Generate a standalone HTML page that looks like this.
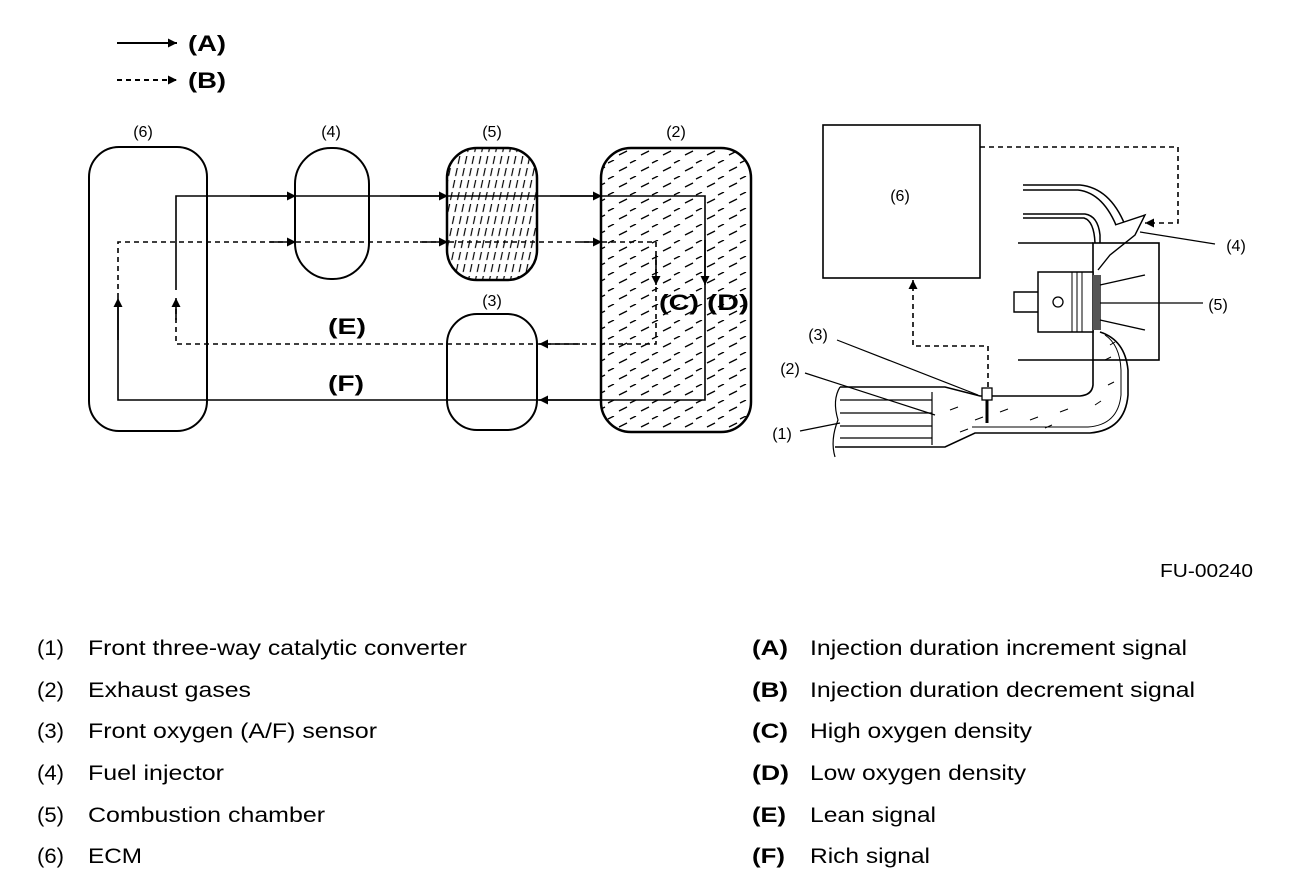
<!DOCTYPE html>
<html><head><meta charset="utf-8"><style>
html,body{margin:0;padding:0;background:#fff;}
svg{display:block;font-family:"Liberation Sans",Arial,sans-serif;}
</style></head><body>
<svg width="1312" height="894" viewBox="0 0 1312 894" xmlns="http://www.w3.org/2000/svg">
<defs>
<marker id="ar" viewBox="0 0 10 10" refX="10" refY="5" markerWidth="16" markerHeight="9" markerUnits="userSpaceOnUse" orient="auto"><path d="M0,0 L10,5 L0,10 z" fill="#000"/></marker>
<pattern id="dash2" width="22" height="16" patternUnits="userSpaceOnUse"><path d="M3,11 L11,7 M14,3 L20,0" stroke="#000" stroke-width="1.3"/></pattern>
<pattern id="hatch5" width="7" height="12" patternUnits="userSpaceOnUse" patternTransform="skewX(-12)"><path d="M3,0 L3,8" stroke="#000" stroke-width="1.2"/></pattern>
</defs>
<g fill="none" stroke="#000" stroke-width="2">
<line x1="117" y1="43" x2="177" y2="43" marker-end="url(#ar)"/>
<line x1="117" y1="80" x2="177" y2="80" stroke-dasharray="5,4" marker-end="url(#ar)"/>
<rect x="89" y="147" width="118" height="284" rx="30"/>
<rect x="295" y="148" width="74" height="131" rx="36"/>
<rect x="447" y="148" width="90" height="132" rx="30" fill="url(#hatch5)" stroke-width="2.5"/>
<rect x="601" y="148" width="150" height="284" rx="30" fill="url(#dash2)" stroke-width="2.5"/>
<rect x="447" y="314" width="90" height="116" rx="30"/>
<polyline points="176,290 176,196 705,196 705,400 118,400 118,300" stroke-width="1.6"/>
<line x1="250" y1="196" x2="296" y2="196" stroke-width="1.6" marker-end="url(#ar)"/>
<line x1="400" y1="196" x2="448" y2="196" stroke-width="1.6" marker-end="url(#ar)"/>
<line x1="560" y1="196" x2="602" y2="196" stroke-width="1.6" marker-end="url(#ar)"/>
<line x1="705" y1="240" x2="705" y2="285" stroke-width="1.6" marker-end="url(#ar)"/>
<line x1="600" y1="400" x2="539" y2="400" stroke-width="1.6" marker-end="url(#ar)"/>
<line x1="118" y1="340" x2="118" y2="298" stroke-width="1.6" marker-end="url(#ar)"/>
<polyline points="118,298 118,242 656,242 656,344 176,344 176,300" stroke-width="1.6" stroke-dasharray="5,4"/>
<line x1="270" y1="242" x2="296" y2="242" stroke-width="1.6" marker-end="url(#ar)"/>
<line x1="420" y1="242" x2="448" y2="242" stroke-width="1.6" marker-end="url(#ar)"/>
<line x1="580" y1="242" x2="602" y2="242" stroke-width="1.6" marker-end="url(#ar)"/>
<line x1="656" y1="255" x2="656" y2="285" stroke-width="1.6" marker-end="url(#ar)"/>
<line x1="580" y1="344" x2="539" y2="344" stroke-width="1.6" marker-end="url(#ar)"/>
<line x1="176" y1="320" x2="176" y2="298" stroke-width="1.6" marker-end="url(#ar)"/>

<rect x="823" y="125" width="157" height="153" stroke-width="1.6"/>
<polyline points="980,147 1178,147 1178,223 1145,223" stroke-width="1.6" stroke-dasharray="5,4" marker-end="url(#ar)"/>
<polyline points="988,387 988,346 913,346 913,280" stroke-width="1.6" stroke-dasharray="5,4" marker-end="url(#ar)"/>
<path d="M1023,185 L1080,185 Q1110,188 1125,225 L1125,240" stroke-width="1.5"/>
<path d="M1023,190 L1078,190 Q1104,193 1118,230" stroke-width="1.5"/>
<path d="M1023,214 L1085,214 Q1098,216 1100,235 L1100,243" stroke-width="1.5"/>
<path d="M1023,218 L1084,218 Q1094,221 1095,243" stroke-width="1.5"/>
<path d="M1115,225 L1145,215 L1135,235 L1110,255 L1098,270" stroke-width="1.4" fill="#fff"/>
<line x1="1018" y1="243" x2="1093" y2="243" stroke-width="1.6"/>
<line x1="1018" y1="360" x2="1093" y2="360" stroke-width="1.6"/>
<rect x="1093" y="243" width="66" height="117" stroke-width="1.6"/>
<rect x="1038" y="272" width="55" height="60" stroke-width="1.5" fill="#fff"/>
<line x1="1072" y1="272" x2="1072" y2="332" stroke-width="1"/><line x1="1077" y1="272" x2="1077" y2="332" stroke-width="1"/><line x1="1082" y1="272" x2="1082" y2="332" stroke-width="1"/>
<rect x="1093" y="275" width="8" height="55" fill="#555" stroke="none"/>
<circle cx="1058" cy="302" r="5" stroke-width="1.3"/>
<path d="M1038,292 L1014,292 L1014,312 L1038,312" stroke-width="1.4"/>
<path d="M1100,285 L1145,275 M1100,320 L1145,330" stroke-width="1.3"/>
<path d="M1100,332 Q1125,340 1128,370 L1128,395 Q1125,430 1090,433 L975,433 L945,447 L835,447" stroke-width="1.6"/>
<path d="M1093,360 L1093,385 Q1092,395 1080,396 L980,396 L945,387 L840,387" stroke-width="1.6"/>
<path d="M1105,335 Q1120,345 1121,370 L1121,395 Q1118,425 1088,427 L972,427" stroke-width="1"/>
<path d="M840,387 Q832,400 838,420 Q830,440 835,457" stroke-width="1.2"/>
<line x1="840" y1="400" x2="932" y2="400" stroke-width="1.2"/>
<line x1="840" y1="413" x2="932" y2="413" stroke-width="1.2"/>
<line x1="840" y1="426" x2="932" y2="426" stroke-width="1.2"/>
<line x1="840" y1="438" x2="932" y2="438" stroke-width="1.2"/>
<line x1="932" y1="392" x2="932" y2="445" stroke-width="1.2"/>
<path d="M950,410 l8,-3 M975,420 l8,-3 M1000,412 l8,-3 M1030,420 l8,-3 M1060,412 l8,-3 M1095,405 l6,-4 M1108,385 l6,-3 M1105,360 l6,-3 M1110,345 l5,-3 M960,432 l8,-3 M1045,428 l7,-3" stroke-width="1"/>
<rect x="982" y="388" width="10" height="12" stroke-width="1.3" fill="#fff"/>
<line x1="987" y1="400" x2="987" y2="423" stroke-width="3"/>
<line x1="1215" y1="244" x2="1140" y2="232" stroke-width="1.2"/>
<line x1="1203" y1="303" x2="1100" y2="303" stroke-width="1.2"/>
<line x1="837" y1="340" x2="978" y2="395" stroke-width="1.2"/>
<line x1="805" y1="373" x2="935" y2="415" stroke-width="1.2"/>
<line x1="800" y1="431" x2="840" y2="423" stroke-width="1.2"/>
</g>
<g font-size="22" font-weight="bold" fill="#000" lengthAdjust="spacingAndGlyphs">
<text x="188" y="51" textLength="38" lengthAdjust="spacingAndGlyphs">(A)</text>
<text x="188" y="88" textLength="38" lengthAdjust="spacingAndGlyphs">(B)</text>
<text x="659" y="310" textLength="40" lengthAdjust="spacingAndGlyphs">(C)</text>
<text x="707" y="310" textLength="42" lengthAdjust="spacingAndGlyphs">(D)</text>
<text x="328" y="334" textLength="38" lengthAdjust="spacingAndGlyphs">(E)</text>
<text x="328" y="391" textLength="36" lengthAdjust="spacingAndGlyphs">(F)</text>
</g>
<g font-size="16" fill="#000" text-anchor="middle">
<text x="143" y="137">(6)</text>
<text x="331" y="137">(4)</text>
<text x="492" y="137">(5)</text>
<text x="676" y="137">(2)</text>
<text x="492" y="306">(3)</text>
<text x="900" y="201">(6)</text>
<text x="1236" y="251">(4)</text>
<text x="1218" y="310">(5)</text>
<text x="818" y="340">(3)</text>
<text x="790" y="374">(2)</text>
<text x="782" y="439">(1)</text>
</g>
<text x="1160" y="577" font-size="18" fill="#000" textLength="93" lengthAdjust="spacingAndGlyphs">FU-00240</text>
<g font-size="21" fill="#000">
<text x="37" y="655" textLength="27" lengthAdjust="spacingAndGlyphs">(1)</text><text x="88" y="655" textLength="379" lengthAdjust="spacingAndGlyphs">Front three-way catalytic converter</text>
<text x="37" y="697" textLength="27" lengthAdjust="spacingAndGlyphs">(2)</text><text x="88" y="697" textLength="163" lengthAdjust="spacingAndGlyphs">Exhaust gases</text>
<text x="37" y="738" textLength="27" lengthAdjust="spacingAndGlyphs">(3)</text><text x="88" y="738" textLength="289" lengthAdjust="spacingAndGlyphs">Front oxygen (A/F) sensor</text>
<text x="37" y="780" textLength="27" lengthAdjust="spacingAndGlyphs">(4)</text><text x="88" y="780" textLength="136" lengthAdjust="spacingAndGlyphs">Fuel injector</text>
<text x="37" y="822" textLength="27" lengthAdjust="spacingAndGlyphs">(5)</text><text x="88" y="822" textLength="237" lengthAdjust="spacingAndGlyphs">Combustion chamber</text>
<text x="37" y="863" textLength="27" lengthAdjust="spacingAndGlyphs">(6)</text><text x="88" y="863" textLength="54" lengthAdjust="spacingAndGlyphs">ECM</text>
<g font-weight="bold"><text x="752" y="655" textLength="36" lengthAdjust="spacingAndGlyphs">(A)</text><text x="752" y="697" textLength="36" lengthAdjust="spacingAndGlyphs">(B)</text><text x="752" y="738" textLength="36" lengthAdjust="spacingAndGlyphs">(C)</text><text x="752" y="780" textLength="37" lengthAdjust="spacingAndGlyphs">(D)</text><text x="752" y="822" textLength="34" lengthAdjust="spacingAndGlyphs">(E)</text><text x="752" y="863" textLength="33" lengthAdjust="spacingAndGlyphs">(F)</text></g>
<text x="810" y="655" textLength="377" lengthAdjust="spacingAndGlyphs">Injection duration increment signal</text>
<text x="810" y="697" textLength="385" lengthAdjust="spacingAndGlyphs">Injection duration decrement signal</text>
<text x="810" y="738" textLength="222" lengthAdjust="spacingAndGlyphs">High oxygen density</text>
<text x="810" y="780" textLength="216" lengthAdjust="spacingAndGlyphs">Low oxygen density</text>
<text x="810" y="822" textLength="126" lengthAdjust="spacingAndGlyphs">Lean signal</text>
<text x="810" y="863" textLength="120" lengthAdjust="spacingAndGlyphs">Rich signal</text>
</g>
</svg>
</body></html>
